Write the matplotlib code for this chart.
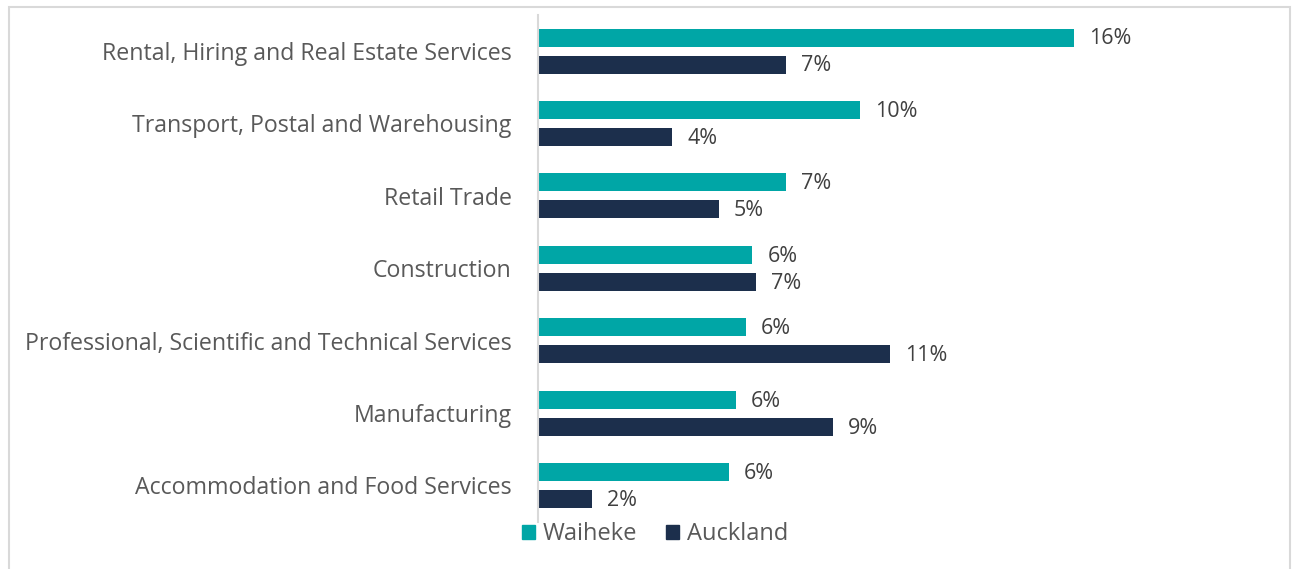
import matplotlib
matplotlib.use("Agg")
import matplotlib.pyplot as plt
from matplotlib.patches import Rectangle, Patch
import numpy as np

categories = ["Rental, Hiring and Real Estate Services",
              "Transport, Postal and Warehousing",
              "Retail Trade",
              "Construction",
              "Professional, Scientific and Technical Services",
              "Manufacturing",
              "Accommodation and Food Services"]
waiheke = [16.0, 9.6, 7.4, 6.4, 6.2, 5.9, 5.7]
auckland = [7.4, 4.0, 5.4, 6.5, 10.5, 8.8, 1.6]
waiheke_labels = ["16%", "10%", "7%", "6%", "6%", "6%", "6%"]
auckland_labels = ["7%", "4%", "5%", "7%", "11%", "9%", "2%"]
series_names = ["Waiheke", "Auckland"]

teal = "#00A6A6"
navy = "#1C2F4C"
font = "Open Sans"

W, H = 1292, 569
fig = plt.figure(figsize=(W/100, H/100), dpi=100)
ax = fig.add_axes([538/W, 1-521.7/H, (1208-538)/W, (521.7-14.8)/H])

y = np.arange(len(categories))
bh = 18/72.4
off = 13.5/72.4
ax.barh(y - off, waiheke, height=bh, color=teal)
ax.barh(y + off, auckland, height=bh, color=navy)
ax.set_xlim(0, 20)
ax.set_ylim(len(categories)-0.5, -0.5)

ppu = 670/20
for i in range(len(categories)):
    ax.text(waiheke[i] + 15/ppu, y[i]-off + 0.02, waiheke_labels[i], va="center", ha="left",
            fontsize=15.5, color="#404040", family=font)
    ax.text(auckland[i] + 15/ppu, y[i]+off + 0.02, auckland_labels[i], va="center", ha="left",
            fontsize=15.5, color="#404040", family=font)

ax.set_yticks(y)
ax.set_yticklabels(categories, fontsize=16.7, color="#595959", family=font)
ax.tick_params(axis="y", length=0, pad=19)
ax.set_xticks([])
for s in ["top", "right", "bottom"]:
    ax.spines[s].set_visible(False)
ax.spines["left"].set_color("#D9D9D9")
ax.spines["left"].set_linewidth(1.5)

handles = [Patch(color=teal), Patch(color=navy)]
fig.legend(handles, series_names, loc="center", bbox_to_anchor=(655/W, 1-534/H),
           ncol=2, frameon=False, prop={"family": font, "size": 17},
           labelcolor="#595959", handlelength=0.55, handleheight=0.55,
           handletextpad=0.35, columnspacing=1.2)

fig.patches.append(Rectangle((9/W, -0.01), (1290-9)/W, (1-7/H)+0.01, transform=fig.transFigure,
                             fill=False, edgecolor="#D9D9D9", linewidth=1.5))
fig.savefig("out.png", dpi=100)
